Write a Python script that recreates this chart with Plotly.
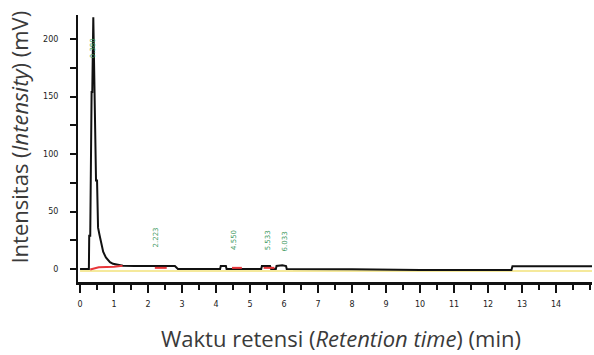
import plotly.graph_objects as go

# chromatogram trace (time in min, intensity in mV)
time_min = [0.0, 0.26, 0.27, 0.30, 0.34, 0.36, 0.39, 0.42, 0.47, 0.50, 0.53, 0.57,
            0.62, 0.68, 0.76, 0.88, 0.97, 1.10, 1.26, 1.60, 2.20, 2.79, 2.88, 3.9,
            4.12, 4.14, 4.29, 4.31, 4.6, 5.33, 5.35, 5.59, 5.62, 5.76, 5.78, 5.95,
            6.06, 6.08, 8.0, 10.0, 12.69, 12.72, 15.06]
intensity_mv = [0.0, 0.0, 29.0, 29.0, 154.0, 154.0, 219.0, 150.0, 77.0, 77.0, 36.0, 30.0,
                22.0, 15.0, 10.0, 6.0, 4.5, 3.5, 2.8, 2.6, 2.6, 2.6, 0.0, 0.0,
                0.0, 2.6, 2.6, 0.0, 0.0, 0.0, 2.6, 2.6, 0.0, 0.0, 2.6, 3.2,
                2.6, 0.0, -0.3, -0.8, -0.8, 2.4, 2.4]

# integration baselines (red)
base_t = [0.30, 0.55, 1.00, 1.25, None, 2.20, 2.55, None, 4.47, 4.76, None, 5.40, 5.72]
base_v = [-0.5, 1.5, 2.0, 2.8, None, 1.0, 1.0, None, 1.0, 1.0, None, 1.0, 1.0]

# retention-time labels
peak_t = [0.38, 2.22, 4.55, 5.53, 6.03]
peak_y = [192.0, 27.0, 25.0, 25.0, 24.0]
peak_lbl = ["0.380", "2.223", "4.550", "5.533", "6.033"]

x_ticks = list(range(0, 15))
y_ticks = [0, 50, 100, 150, 200]

fig = go.Figure()
fig.add_trace(go.Scatter(x=[0, 15.06], y=[-1.8, -1.8], mode="lines",
                         line=dict(color="#f2e27a", width=1.5), hoverinfo="skip"))
fig.add_trace(go.Scatter(x=time_min, y=intensity_mv, mode="lines",
                         line=dict(color="#111111", width=2)))
fig.add_trace(go.Scatter(x=base_t, y=base_v, mode="lines",
                         line=dict(color="#e8363a", width=2), connectgaps=False))

for t, y, s in zip(peak_t, peak_y, peak_lbl):
    fig.add_annotation(x=t, y=y, text=s, showarrow=False, textangle=-90,
                       font=dict(size=7, color="#3f9a62", family="DejaVu Sans"),
                       xanchor="center", yanchor="middle")

fig.add_annotation(xref="paper", yref="paper", x=-0.1157, y=0.543,
                   xanchor="center", yanchor="middle",
                   text="Intensitas (<i>Intensity</i>) (mV)", textangle=-90,
                   showarrow=False, font=dict(size=22, color="#3a3a3a", family="Open Sans"))
fig.add_annotation(xref="paper", yref="paper", x=0.512, y=-0.21,
                   xanchor="center", yanchor="middle",
                   text="Waktu retensi (<i>Retention time</i>) (min)",
                   showarrow=False, font=dict(size=22, color="#3a3a3a", family="Open Sans"))

fig.update_layout(
    width=594, height=355,
    margin=dict(l=78, r=2, t=15, b=73),
    paper_bgcolor="white", plot_bgcolor="white",
    showlegend=False,
    xaxis=dict(range=[-0.06, 15.06], showgrid=False, zeroline=False,
               showline=True, linecolor="#111111", linewidth=2.5,
               ticks="outside", ticklen=8, tickwidth=2, tickcolor="#111111",
               tickvals=x_ticks, ticktext=[str(v) for v in x_ticks],
               ticklabelstandoff=5,
               tickfont=dict(size=8, color="#222222", family="DejaVu Sans"),
               minor=dict(ticks="outside", ticklen=5, tickwidth=2,
                          tickcolor="#111111", dtick=0.5, tick0=0)),
    yaxis=dict(range=[-11.3, 221], showgrid=False, zeroline=False,
               showline=True, linecolor="#111111", linewidth=2,
               ticks="outside", ticklen=6, tickwidth=2, tickcolor="#111111",
               tickvals=y_ticks, ticktext=[str(v) for v in y_ticks],
               ticklabelstandoff=10,
               tickfont=dict(size=8, color="#222222", family="DejaVu Sans"),
               minor=dict(ticks="outside", ticklen=6, tickwidth=2,
                          tickcolor="#111111", dtick=25, tick0=0)),
)

fig.write_html("out.html", config={"displayModeBar": False},
               post_script="document.body.style.margin='0';document.body.style.overflow='hidden';")
